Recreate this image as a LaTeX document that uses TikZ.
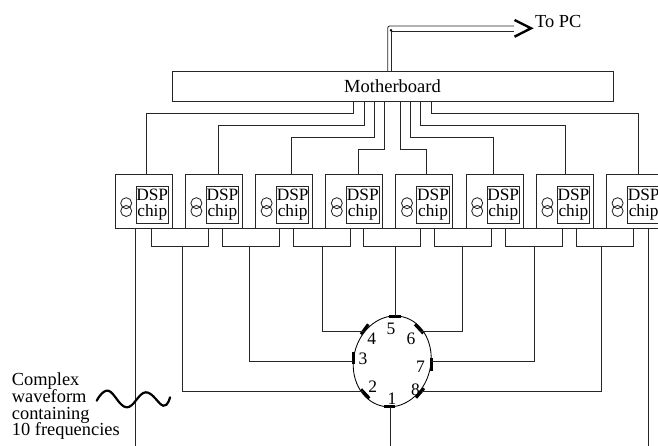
\documentclass[tikz,border=0pt]{standalone}
\usepackage{fontspec}
\setmainfont{Liberation Serif}
\begin{document}
\begin{tikzpicture}[x=1pt,y=-1pt,
  wire/.style={line width=0.85pt,black!85},
  plain/.style={draw=black!85,line width=0.85pt,inner sep=0pt,outer sep=0pt,rectangle},
  dspbox/.style={plain,minimum width=57pt,minimum height=54pt,anchor=north west},
  chipbox/.style={plain,minimum width=32.5pt,minimum height=37pt,align=center,anchor=north west,font=\fontsize{17.3}{16.5}\selectfont},
  bridgebox/.style={plain,minimum width=57pt,minimum height=18.7pt,anchor=north west},
  tapmark/.style={line width=3pt,black},
  lbl/.style={inner sep=0pt,font=\fontsize{17.5}{17}\selectfont},
  txt/.style={inner sep=0pt,font=\fontsize{18.4}{16.7}\selectfont}]
\useasboundingbox (0,0) rectangle (658,446);
\clip (0,0) rectangle (658,446);
% motherboard
\node[plain,minimum width=441pt,minimum height=30.3pt,anchor=north west,font=\fontsize{18.5}{18}\selectfont] (board) at (172,71) {Motherboard};
% DSP modules
\foreach \k in {0,...,7}{
  \node[dspbox] (d\k) at ({115+70.2*\k},174) {};
  \node[chipbox] (c\k) at ({136+70.2*\k},186) {DSP\\chip};
  \draw[wire] ({126.2+70.2*\k},203.2) circle (5.5) ({126.2+70.2*\k},211) circle (5.5);
}
\foreach \k in {0,...,6}{
  \node[bridgebox] (b\k) at ({151.5+70.75*\k},228) {};
}
% board terminals and chip pins
\foreach \n/\x in {1/353.7,2/364,3/374.3,4/384.5,5/400,6/410.3,7/420.7,8/431}{
  \coordinate (m\n) at (\x,101.3);
}
\foreach \n/\x in {1/146.3,2/218.7,3/291.3,4/358.3,5/426,6/493.3,7/565.7,8/638.3}{
  \coordinate (p\n) at (\x,174);
}
\draw[wire] (m1) -- (m1|-0,113.3) -| (p1);
\draw[wire] (m2) -- (m2|-0,125.7) -| (p2);
\draw[wire] (m3) -- (m3|-0,137.5) -| (p3);
\draw[wire] (m4) -- (m4|-0,149.7) -| (p4);
\draw[wire] (m5) -- (m5|-0,149.7) -| (p5);
\draw[wire] (m6) -- (m6|-0,137.5) -| (p6);
\draw[wire] (m7) -- (m7|-0,125.7) -| (p7);
\draw[wire] (m8) -- (m8|-0,113.3) -| (p8);
% output to PC
\coordinate (oa) at (387.7,71);
\coordinate (ob) at (391.7,71);
\coordinate (oc) at (514,26);
\coordinate (od) at (514,31);
\coordinate (tip) at (531,28.3);
\draw[wire,rounded corners=2pt] (oa) |- (oc);
\draw[wire] (ob) |- (od);
\fill (391,30.3) circle (1.4);
\draw[line width=2.4pt,line join=miter] (514.5,20) -- (tip) -- (514.5,36.7);
\node[txt,anchor=base west] (pc) at (535,28) {To PC};
% ring
\coordinate (t1) at (390,406.7);
\coordinate (t2) at (363,391.7);
\coordinate (t3) at (353.3,361.7);
\coordinate (t4) at (364,331);
\coordinate (t5) at (395,316);
\coordinate (t6) at (420,331);
\coordinate (t7) at (431,361.7);
\coordinate (t8) at (422,391.7);
\coordinate (ringc) at (392.2,361.4);
\draw[wire,black,rotate around={-13:(ringc)}] (ringc) ellipse [x radius=38.6,y radius=45.8];
\draw[tapmark] (384,406.7) -- (395.3,406.7);
\draw[tapmark] (361,389.3) -- (369.3,398.3);
\draw[tapmark] (353.3,352.3) -- (353.3,364.3);
\draw[tapmark] (361,334.3) -- (368.3,324.3);
\draw[tapmark] (389.3,316) -- (400.7,316);
\draw[tapmark] (415,324.3) -- (423.3,333.3);
\draw[tapmark] (431,358.3) -- (431,370.7);
\draw[tapmark] (416,397.7) -- (424,388.3);
% stems from the bridges to the ring
\coordinate (e1) at (390,446);
\draw[wire] (t1) -- (e1);
\draw[wire] (182.5,246.7) |- (t2);
\draw[wire] (249.7,246.7) |- (t3);
\draw[wire] (322,246.7) |- (t4);
\draw[wire] (395,246.7) -- (t5);
\draw[wire] (462,246.7) |- (t6);
\draw[wire] (534.3,246.7) |- (t7);
\draw[wire] (601.7,246.7) |- (t8);
% outer lines
\coordinate (l0) at (135.7,228);
\coordinate (l1) at (135.7,446);
\coordinate (r0) at (648.7,228);
\coordinate (r1) at (648.7,446);
\draw[wire] (l0) -- (l1);
\draw[wire] (r0) -- (r1);
% ring numbers
\node[lbl] (n1) at (392,398.5) {1};
\node[lbl] (n2) at (372.7,387) {2};
\node[lbl] (n3) at (363,359) {3};
\node[lbl] (n4) at (371.7,339) {4};
\node[lbl] (n5) at (391,328.5) {5};
\node[lbl] (n6) at (411,339) {6};
\node[lbl] (n7) at (420.5,367) {7};
\node[lbl] (n8) at (415.5,390) {8};
% waveform
\draw[line width=2.2pt,line cap=round] plot[smooth,tension=0.7] coordinates {(96.7,400.7) (108.3,390.7) (126.7,407.3) (145.7,392.3) (163.3,405.7) (170,397.3)};
\node[txt,anchor=base west] (w1) at (11.7,385) {Complex};
\node[txt,anchor=base west] (w2) at (11.7,402.3) {waveform};
\node[txt,anchor=base west] (w3) at (11.7,419) {containing};
\node[txt,anchor=base west] (w4) at (11.7,435) {10 frequencies};
\end{tikzpicture}
\end{document}
